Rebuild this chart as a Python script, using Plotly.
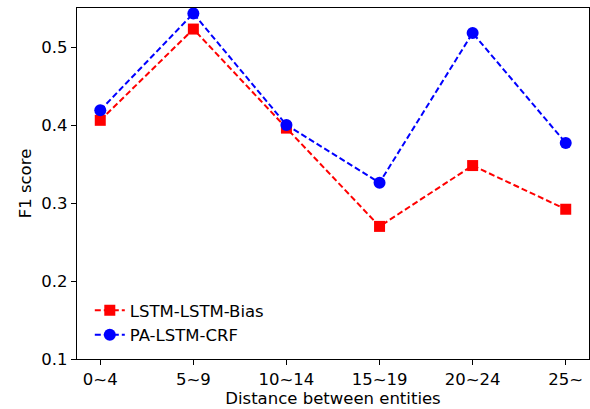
import plotly.graph_objects as go

categories = ["0~4", "5~9", "10~14", "15~19", "20~24", "25~"]
lstm_lstm_bias = [0.406, 0.523, 0.396, 0.270, 0.348, 0.292]
pa_lstm_crf = [0.419, 0.543, 0.400, 0.326, 0.518, 0.377]

xpos = list(range(len(categories)))

FONT = "DejaVu Sans"
FS = 16.5

fig = go.Figure()
fig.add_trace(go.Scatter(
    x=xpos, y=lstm_lstm_bias, name="LSTM-LSTM-Bias", mode="lines+markers",
    line=dict(color="#ff0000", width=2, dash="6px,3px"),
    marker=dict(symbol="square", size=11, color="#ff0000"),
))
fig.add_trace(go.Scatter(
    x=xpos, y=pa_lstm_crf, name="PA-LSTM-CRF", mode="lines+markers",
    line=dict(color="#0000ff", width=2, dash="6px,3px"),
    marker=dict(symbol="circle", size=12, color="#0000ff"),
))

axis_common = dict(
    showline=True, linecolor="black", linewidth=1.2, mirror=True,
    ticks="outside", ticklen=5, tickwidth=1, tickcolor="black",
    showgrid=False, zeroline=False,
    tickfont=dict(family=FONT, size=FS, color="black"),
)

fig.update_xaxes(
    **axis_common,
    range=[-0.25, 5.25], tickmode="array", tickvals=xpos, ticktext=categories,
    title=dict(text="Distance between entities", font=dict(family=FONT, size=FS, color="black"), standoff=3),
)
fig.update_yaxes(
    **axis_common,
    range=[0.1, 0.55], tickmode="array", tickvals=[0.1, 0.2, 0.3, 0.4, 0.5],
    ticktext=["0.1", "0.2", "0.3", "0.4", "0.5"],
    title=dict(text="F1 score", font=dict(family=FONT, size=FS, color="black"), standoff=5),
)

fig.update_layout(
    width=590, height=409,
    margin=dict(l=77, r=1, t=8, b=50),
    plot_bgcolor="white", paper_bgcolor="white",
    font=dict(family=FONT, size=FS, color="black"),
    legend=dict(x=0.025, y=0.02, xanchor="left", yanchor="bottom",
                bgcolor="rgba(0,0,0,0)", font=dict(size=FS), itemwidth=30,
                tracegroupgap=0),
    showlegend=True,
)

fig.write_html("out.html", config={"displayModeBar": False},
               post_script="document.body.style.margin='0';document.body.style.overflow='hidden';")
